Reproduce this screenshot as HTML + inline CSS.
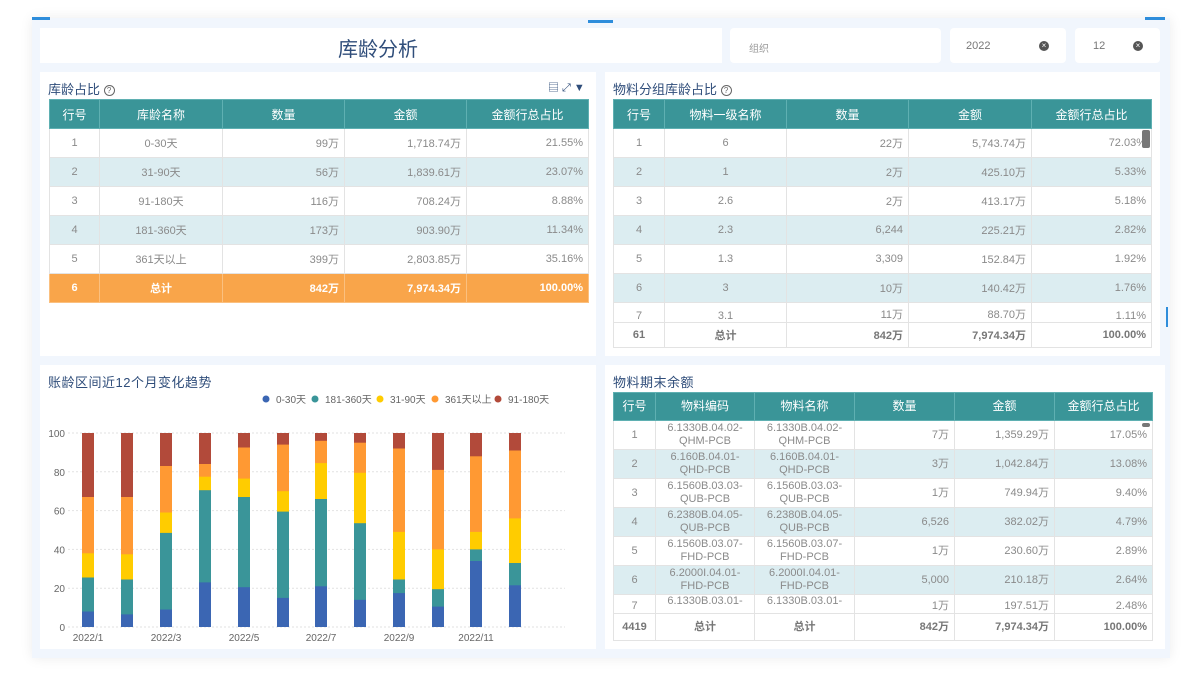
<!DOCTYPE html>
<html><head><meta charset="utf-8"><style>
*{margin:0;padding:0;box-sizing:border-box}
body{width:1200px;height:675px;background:#fff;position:relative;overflow:hidden;font-family:"Liberation Sans","Noto Sans CJK SC",sans-serif}
.frame{position:absolute;left:32px;top:18px;width:1138px;height:640px;background:#f1f6fd;box-shadow:0 0 12px rgba(0,0,0,0.08)}
.p{position:absolute;background:#fff}
.t{position:absolute;font-size:13px;color:#2f4d7a}
table{position:absolute;border-collapse:collapse;table-layout:fixed;font-size:11px;color:#8a8a8a}
td,th{border:1px solid #e3e3e3;overflow:hidden;white-space:nowrap}
th{background:#3a9598;color:#fff;font-weight:normal;font-size:12px;border-color:#5fb0b2}
td{text-align:right;padding-right:5px}
td.c{text-align:center;padding:0}
tr.s td{background:#dcedf1}
tr.o td{background:#f9a54a;color:#fff;font-weight:bold;border-color:#fbc07f}
tr.f td{font-weight:bold;color:#777}
.x{position:absolute;width:10px;height:10px;border-radius:50%;background:#555;color:#fff;font-size:8px;line-height:10px;text-align:center}
</style></head><body>
<div class="frame"></div>
<div style="position:absolute;left:32px;top:17px;width:18px;height:3px;background:#2e8ddb"></div>
<div style="position:absolute;left:588px;top:20px;width:25px;height:3px;background:#2e8ddb"></div>
<div style="position:absolute;left:1145px;top:17px;width:20px;height:3px;background:#2e8ddb"></div>
<div style="position:absolute;left:1166px;top:307px;width:2px;height:20px;background:#2e8ddb"></div>

<div class="p" style="left:40px;top:28px;width:682px;height:35px"></div>
<div style="position:absolute;left:338px;top:33px;font-size:20px;color:#2f4d7a">库龄分析</div>
<div class="p" style="left:730px;top:28px;width:211px;height:35px;border-radius:4px"></div>
<div style="position:absolute;left:749px;top:40px;font-size:10px;color:#999">组织</div>
<div class="p" style="left:950px;top:28px;width:116px;height:35px;border-radius:4px"></div>
<div style="position:absolute;left:966px;top:40px;font-size:11px;color:#777">2022</div>
<div class="x" style="left:1039px;top:41px">×</div>
<div class="p" style="left:1075px;top:28px;width:85px;height:35px;border-radius:4px"></div>
<div style="position:absolute;left:1093px;top:40px;font-size:11px;color:#777">12</div>
<div class="x" style="left:1133px;top:41px">×</div>

<!-- top left -->
<div class="p" style="left:40px;top:72px;width:556px;height:284px"></div>
<div class="t" style="left:48px;top:79px">库龄占比 <span style="display:inline-block;width:11px;height:11px;border:1px solid #666;border-radius:50%;font-size:8px;line-height:9px;text-align:center;color:#666;vertical-align:1px">?</span></div>
<div style="position:absolute;left:548px;top:79px;font-size:11px;color:#2f4d7a">▤ ⤢ <b>▼</b></div>
<table style="left:49px;top:99px;width:539px">
<colgroup><col style="width:50px"><col style="width:123px"><col style="width:122px"><col style="width:122px"><col style="width:122px"></colgroup>
<tr style="height:29px"><th>行号</th><th>库龄名称</th><th>数量</th><th>金额</th><th>金额行总占比</th></tr>
<tr style="height:29px"><td class="c">1</td><td class="c">0-30天</td><td>99万</td><td>1,718.74万</td><td>21.55%</td></tr>
<tr class="s" style="height:29px"><td class="c">2</td><td class="c">31-90天</td><td>56万</td><td>1,839.61万</td><td>23.07%</td></tr>
<tr style="height:29px"><td class="c">3</td><td class="c">91-180天</td><td>116万</td><td>708.24万</td><td>8.88%</td></tr>
<tr class="s" style="height:29px"><td class="c">4</td><td class="c">181-360天</td><td>173万</td><td>903.90万</td><td>11.34%</td></tr>
<tr style="height:29px"><td class="c">5</td><td class="c">361天以上</td><td>399万</td><td>2,803.85万</td><td>35.16%</td></tr>
<tr class="o" style="height:29px"><td class="c">6</td><td class="c">总计</td><td>842万</td><td>7,974.34万</td><td>100.00%</td></tr>
</table>

<!-- top right -->
<div class="p" style="left:605px;top:72px;width:555px;height:284px"></div>
<div class="t" style="left:613px;top:79px">物料分组库龄占比 <span style="display:inline-block;width:11px;height:11px;border:1px solid #666;border-radius:50%;font-size:8px;line-height:9px;text-align:center;color:#666;vertical-align:1px">?</span></div>
<table style="left:613px;top:99px;width:538px">
<colgroup><col style="width:51px"><col style="width:122px"><col style="width:122px"><col style="width:123px"><col style="width:120px"></colgroup>
<tr style="height:29px"><th>行号</th><th>物料一级名称</th><th>数量</th><th>金额</th><th>金额行总占比</th></tr>
<tr style="height:29px"><td class="c">1</td><td class="c">6</td><td>22万</td><td>5,743.74万</td><td>72.03%</td></tr>
<tr class="s" style="height:29px"><td class="c">2</td><td class="c">1</td><td>2万</td><td>425.10万</td><td>5.33%</td></tr>
<tr style="height:29px"><td class="c">3</td><td class="c">2.6</td><td>2万</td><td>413.17万</td><td>5.18%</td></tr>
<tr class="s" style="height:29px"><td class="c">4</td><td class="c">2.3</td><td>6,244</td><td>225.21万</td><td>2.82%</td></tr>
<tr style="height:29px"><td class="c">5</td><td class="c">1.3</td><td>3,309</td><td>152.84万</td><td>1.92%</td></tr>
<tr class="s" style="height:29px"><td class="c">6</td><td class="c">3</td><td>10万</td><td>140.42万</td><td>1.76%</td></tr>
<tr style="height:20px"><td class="c" style="vertical-align:bottom">7</td><td class="c" style="vertical-align:bottom">3.1</td><td style="vertical-align:bottom">11万</td><td style="vertical-align:bottom">88.70万</td><td style="vertical-align:bottom">1.11%</td></tr>
<tr class="f" style="height:25px"><td class="c" style="border-top:none">61</td><td class="c" style="border-top:none">总计</td><td style="border-top:none">842万</td><td style="border-top:none">7,974.34万</td><td style="border-top:none">100.00%</td></tr>
</table>
<div style="position:absolute;left:1142px;top:130px;width:8px;height:18px;background:#777;border-radius:2px"></div>

<!-- bottom left chart -->
<div class="p" style="left:40px;top:365px;width:556px;height:284px"></div>
<div class="t" style="left:48px;top:372px;letter-spacing:0.5px">账龄区间近12个月变化趋势</div>
<svg style="position:absolute;left:0;top:0" width="1200" height="675" font-family="Liberation Sans, Noto Sans CJK SC, sans-serif" font-size="10" fill="#666">
<g fill="#3b66b3"><circle cx="266" cy="399" r="3.5"/></g><text x="276" y="403">0-30天</text>
<circle cx="315" cy="399" r="3.5" fill="#3a9599"/><text x="325" y="403">181-360天</text>
<circle cx="380" cy="399" r="3.5" fill="#ffcc00"/><text x="390" y="403">31-90天</text>
<circle cx="435" cy="399" r="3.5" fill="#ff9933"/><text x="445" y="403">361天以上</text>
<circle cx="498" cy="399" r="3.5" fill="#b24a3a"/><text x="508" y="403">91-180天</text>
<g stroke="#e2e2e2" stroke-dasharray="2,2">
<line x1="68" x2="565" y1="433" y2="433"/><line x1="68" x2="565" y1="471.8" y2="471.8"/><line x1="68" x2="565" y1="510.6" y2="510.6"/><line x1="68" x2="565" y1="549.4" y2="549.4"/><line x1="68" x2="565" y1="588.2" y2="588.2"/><line x1="68" x2="565" y1="627" y2="627"/></g>
<g text-anchor="end"><text x="65" y="437">100</text><text x="65" y="475.8">80</text><text x="65" y="514.6">60</text><text x="65" y="553.4">40</text><text x="65" y="592.2">20</text><text x="65" y="631">0</text></g>
<g text-anchor="middle"><text x="88" y="641">2022/1</text><text x="166" y="641">2022/3</text><text x="244" y="641">2022/5</text><text x="321" y="641">2022/7</text><text x="399" y="641">2022/9</text><text x="476" y="641">2022/11</text></g>
<g fill="#b24a3a">
<rect x="82" y="433" width="12" height="194"/><rect x="121" y="433" width="12" height="194"/><rect x="160" y="433" width="12" height="194"/><rect x="199" y="433" width="12" height="194"/><rect x="238" y="433" width="12" height="194"/><rect x="277" y="433" width="12" height="194"/><rect x="315" y="433" width="12" height="194"/><rect x="354" y="433" width="12" height="194"/><rect x="393" y="433" width="12" height="194"/><rect x="432" y="433" width="12" height="194"/><rect x="470" y="433" width="12" height="194"/><rect x="509" y="433" width="12" height="194"/></g>
<g fill="#ff9933">
<rect x="82" y="497" width="12" height="130"/><rect x="121" y="497" width="12" height="130"/><rect x="160" y="466" width="12" height="161"/><rect x="199" y="464" width="12" height="163"/><rect x="238" y="447.5" width="12" height="179.5"/><rect x="277" y="444.6" width="12" height="182.4"/><rect x="315" y="440.8" width="12" height="186.2"/><rect x="354" y="442.7" width="12" height="184.3"/><rect x="393" y="448.5" width="12" height="178.5"/><rect x="432" y="469.9" width="12" height="157.1"/><rect x="470" y="456.3" width="12" height="170.7"/><rect x="509" y="450.5" width="12" height="176.5"/></g>
<g fill="#ffcc00">
<rect x="82" y="553.3" width="12" height="73.7"/><rect x="121" y="554.3" width="12" height="72.7"/><rect x="160" y="512.5" width="12" height="114.5"/><rect x="199" y="476.7" width="12" height="150.3"/><rect x="238" y="478.6" width="12" height="148.4"/><rect x="277" y="491.2" width="12" height="135.8"/><rect x="315" y="463.1" width="12" height="163.9"/><rect x="354" y="472.8" width="12" height="154.2"/><rect x="393" y="531.9" width="12" height="95.1"/><rect x="432" y="549.4" width="12" height="77.6"/><rect x="470" y="531.9" width="12" height="95.1"/><rect x="509" y="518.4" width="12" height="108.6"/></g>
<g fill="#3a9599">
<rect x="82" y="577.5" width="12" height="49.5"/><rect x="121" y="579.5" width="12" height="47.5"/><rect x="160" y="532.9" width="12" height="94.1"/><rect x="199" y="490.2" width="12" height="136.8"/><rect x="238" y="497" width="12" height="130"/><rect x="277" y="511.6" width="12" height="115.4"/><rect x="315" y="499" width="12" height="128"/><rect x="354" y="523.2" width="12" height="103.8"/><rect x="393" y="579.5" width="12" height="47.5"/><rect x="432" y="589.2" width="12" height="37.8"/><rect x="470" y="549.4" width="12" height="77.6"/><rect x="509" y="563" width="12" height="64"/></g>
<g fill="#3b66b3">
<rect x="82" y="611.5" width="12" height="15.5"/><rect x="121" y="614.4" width="12" height="12.6"/><rect x="160" y="609.5" width="12" height="17.5"/><rect x="199" y="582.4" width="12" height="44.6"/><rect x="238" y="587.2" width="12" height="39.8"/><rect x="277" y="597.9" width="12" height="29.1"/><rect x="315" y="586.3" width="12" height="40.7"/><rect x="354" y="599.8" width="12" height="27.2"/><rect x="393" y="593.1" width="12" height="33.9"/><rect x="432" y="606.6" width="12" height="20.4"/><rect x="470" y="561" width="12" height="66"/><rect x="509" y="585.3" width="12" height="41.7"/></g>
</svg>

<!-- bottom right -->
<div class="p" style="left:605px;top:365px;width:560px;height:284px"></div>
<div class="t" style="left:613px;top:372px;letter-spacing:0.5px">物料期末余额</div>
<table style="left:613px;top:392px;width:539px;line-height:13px">
<colgroup><col style="width:42px"><col style="width:99px"><col style="width:100px"><col style="width:100px"><col style="width:100px"><col style="width:98px"></colgroup>
<tr style="height:28px"><th>行号</th><th>物料编码</th><th>物料名称</th><th>数量</th><th>金额</th><th>金额行总占比</th></tr>
<tr style="height:29px"><td class="c">1</td><td class="c">6.1330B.04.02-<br>QHM-PCB</td><td class="c">6.1330B.04.02-<br>QHM-PCB</td><td>7万</td><td>1,359.29万</td><td>17.05%</td></tr>
<tr class="s" style="height:29px"><td class="c">2</td><td class="c">6.160B.04.01-<br>QHD-PCB</td><td class="c">6.160B.04.01-<br>QHD-PCB</td><td>3万</td><td>1,042.84万</td><td>13.08%</td></tr>
<tr style="height:29px"><td class="c">3</td><td class="c">6.1560B.03.03-<br>QUB-PCB</td><td class="c">6.1560B.03.03-<br>QUB-PCB</td><td>1万</td><td>749.94万</td><td>9.40%</td></tr>
<tr class="s" style="height:29px"><td class="c">4</td><td class="c">6.2380B.04.05-<br>QUB-PCB</td><td class="c">6.2380B.04.05-<br>QUB-PCB</td><td>6,526</td><td>382.02万</td><td>4.79%</td></tr>
<tr style="height:29px"><td class="c">5</td><td class="c">6.1560B.03.07-<br>FHD-PCB</td><td class="c">6.1560B.03.07-<br>FHD-PCB</td><td>1万</td><td>230.60万</td><td>2.89%</td></tr>
<tr class="s" style="height:29px"><td class="c">6</td><td class="c">6.2000I.04.01-<br>FHD-PCB</td><td class="c">6.2000I.04.01-<br>FHD-PCB</td><td>5,000</td><td>210.18万</td><td>2.64%</td></tr>
<tr style="height:19px"><td class="c" style="vertical-align:bottom">7</td><td class="c" style="vertical-align:top">6.1330B.03.01-</td><td class="c" style="vertical-align:top">6.1330B.03.01-</td><td style="vertical-align:bottom">1万</td><td style="vertical-align:bottom">197.51万</td><td style="vertical-align:bottom">2.48%</td></tr>
<tr class="f" style="height:27px"><td class="c" style="border-top:none">4419</td><td class="c" style="border-top:none">总计</td><td class="c" style="border-top:none">总计</td><td style="border-top:none">842万</td><td style="border-top:none">7,974.34万</td><td style="border-top:none">100.00%</td></tr>
</table>
<div style="position:absolute;left:1142px;top:423px;width:8px;height:4px;background:#777;border-radius:2px"></div>
</body></html>
